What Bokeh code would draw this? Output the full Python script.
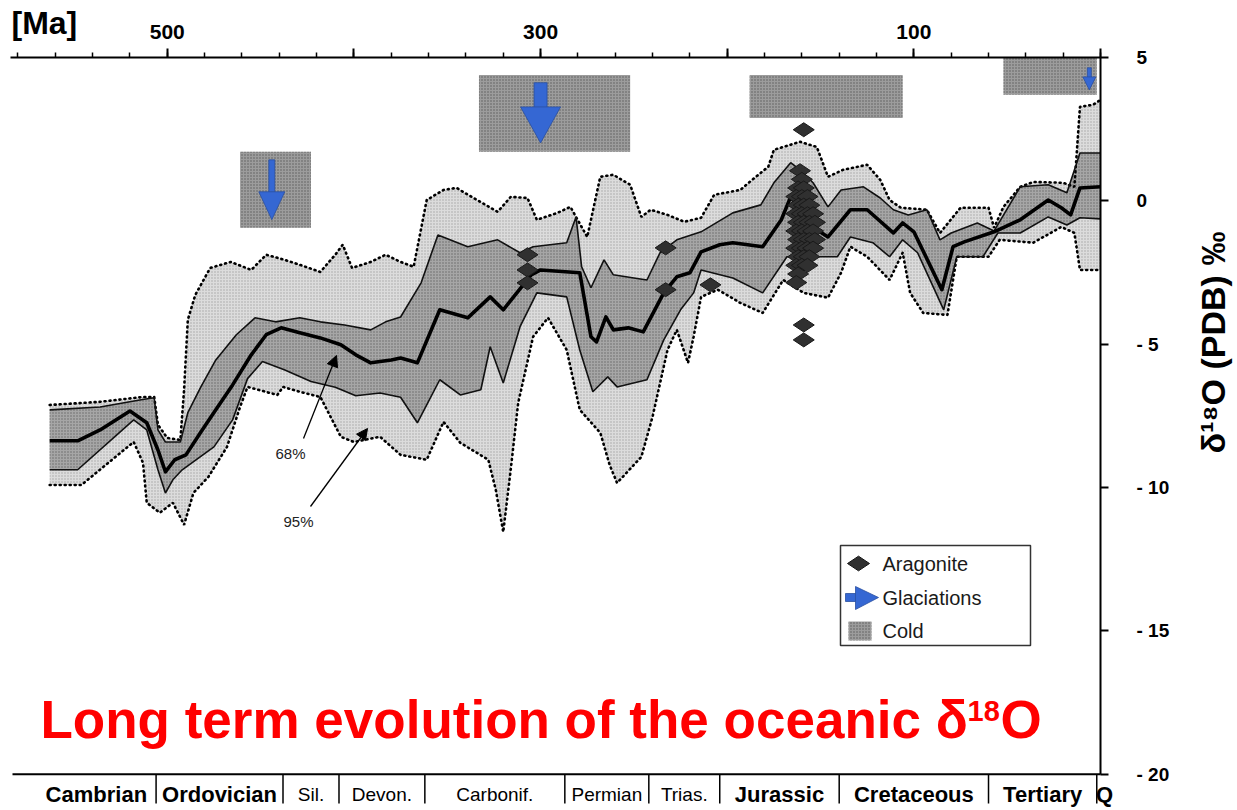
import math
from bokeh.plotting import figure
from bokeh.models import Range1d, FixedTicker, Label, Arrow, NormalHead
from bokeh.embed import file_html
from bokeh.resources import INLINE

# ---------------- data (age in Ma, delta18O in per mil PDB) ----------------
mean_age = [563, 548, 536, 520, 511, 505, 501, 496, 490, 482, 474, 465, 455, 447, 439, 429, 418, 407, 399, 391,
            380, 375, 366, 354, 339, 327, 320, 305, 300, 279, 273, 270, 265, 261, 253, 245, 234, 227, 220, 214,
            204, 197, 181, 171, 166, 161, 152, 146, 134, 125, 111, 106, 100, 85, 79, 73, 57, 43, 28, 21,
            16, 11, 0]
mean_val = [-8.37, -8.37, -7.99, -7.33, -7.74, -8.69, -9.45, -9.03, -8.86, -8.06, -7.29, -6.42, -5.37, -4.67, -4.43, -4.60, -4.78, -5.02, -5.37, -5.65,
            -5.55, -5.48, -5.65, -3.80, -4.08, -3.35, -3.80, -2.58, -2.41, -2.51, -4.74, -4.92, -4.05, -4.50, -4.43, -4.57, -3.21, -2.65, -2.51, -1.78,
            -1.53, -1.46, -1.60, -0.66, 0.14, -0.31, -1.01, -1.26, -0.31, -0.31, -1.12, -0.77, -1.08, -3.10, -1.60, -1.43, -1.08, -0.66, 0.03, -0.24,
            -0.49, 0.45, 0.49]

upper68_age = [563, 536, 514, 507, 505, 501, 493, 489, 482, 474, 463, 453, 442, 429, 418, 405, 391, 383, 375, 364,
               355, 339, 323, 311, 304, 286, 281, 278, 273, 266, 261, 250, 243, 236, 227, 214, 197, 182, 175, 166,
               161, 154, 146, 139, 127, 118, 111, 103, 93, 86, 80, 66, 57, 43, 28, 18, 11, 0]
upper68_val = [-7.29, -7.19, -6.94, -6.87, -7.99, -8.41, -8.41, -7.39, -6.49, -5.55, -4.67, -4.08, -4.22, -4.08, -4.22, -4.33, -4.50, -4.22, -4.05, -2.86,
               -1.19, -1.60, -1.36, -1.81, -1.60, -1.46, -0.56, -2.30, -3.03, -2.06, -2.58, -2.69, -2.76, -1.81, -1.36, -1.08, -0.42, -0.14, 0.63, 1.33,
               1.08, 0.63, -0.21, 0.38, 0.49, 0.10, -0.31, -0.49, -0.31, -1.36, -1.12, -0.77, -1.05, 0.49, 0.56, 0.28, 1.67, 1.67]

lower68_age = [563, 548, 518, 511, 505, 501, 497, 492, 475, 465, 457, 449, 437, 423, 410, 399, 386, 375, 366, 354,
               343, 332, 327, 320, 311, 302, 286, 279, 272, 264, 259, 243, 234, 225, 218, 214, 197, 181, 168, 150,
               141, 134, 122, 113, 106, 98, 84, 77, 63, 55, 43, 28, 18, 11, 0]
lower68_val = [-9.38, -9.38, -7.64, -7.99, -9.38, -10.19, -9.73, -9.38, -8.58, -7.64, -6.20, -5.60, -5.90, -6.30, -6.50, -6.80, -6.70, -6.85, -7.74, -6.24,
               -6.77, -6.59, -5.09, -6.35, -4.39, -3.21, -3.35, -5.20, -6.66, -6.14, -6.49, -6.24, -4.85, -3.80, -3.21, -2.41, -2.69, -3.21, -1.95, -1.95,
               -1.95, -1.26, -1.46, -1.95, -1.36, -1.81, -3.80, -1.95, -1.95, -1.12, -1.12, -0.56, -0.84, -0.59, -0.63]

upper95_age = [563, 536, 513, 507, 505, 500, 493, 491, 489, 485, 477, 466, 455, 447, 437, 429, 418, 410, 406, 401,
               391, 383, 375, 368, 361, 352, 345, 334, 323, 316, 307, 302, 291, 284, 275, 268, 261, 252, 246, 241,
               232, 223, 214, 207, 193, 188, 178, 175, 161, 152, 146, 138, 125, 118, 113, 107, 93, 86, 75, 60,
               57, 52, 43, 36, 20, 14, 11, 4, 0]
upper95_val = [-7.12, -7.01, -6.84, -6.84, -7.81, -8.27, -8.34, -6.59, -4.15, -3.28, -2.34, -2.13, -2.41, -1.88, -2.06, -2.23, -2.48, -1.88, -1.53, -2.34,
               -2.13, -1.88, -2.13, -2.30, 0.03, 0.38, 0.45, 0.03, -0.38, 0.14, 0.10, -0.66, -0.42, -0.21, -1.26, 0.84, 0.91, 0.56, -0.56, -0.31,
               -0.49, -0.73, -0.59, 0.21, 0.38, 0.66, 1.19, 1.78, 2.06, 1.88, 0.84, 1.08, 1.26, 0.73, 0.03, -0.24, -0.31, -1.12, -0.24, -0.24,
               -0.94, -0.21, 0.49, 0.66, 0.63, 0.49, 3.28, 3.35, 3.52]

lower95_age = [563, 546, 518, 513, 511, 504, 497, 491, 486, 478, 468, 461, 457, 441, 438, 429, 418, 407, 400, 386,
               375, 361, 352, 343, 328, 324, 320, 316, 312, 304, 296, 286, 279, 268, 263, 259, 246, 240, 232, 227,
               221, 218, 214, 205, 193, 181, 170, 159, 146, 139, 134, 125, 113, 106, 102, 95, 82, 77, 60, 54,
               36, 21, 14, 11, 0]
lower95_val = [-9.91, -9.91, -8.41, -9.14, -10.53, -10.88, -10.53, -11.30, -10.19, -9.63, -8.58, -7.19, -6.49, -6.77, -6.49, -6.66, -6.84, -8.23, -8.41, -8.23,
               -8.86, -9.03, -7.71, -8.44, -9.03, -10.08, -11.55, -9.38, -7.05, -4.74, -4.08, -5.20, -7.29, -8.09, -9.21, -9.84, -8.93, -7.53, -5.20, -4.50,
               -5.65, -4.74, -3.35, -3.10, -3.56, -3.91, -2.76, -3.21, -3.38, -2.51, -1.60, -1.95, -2.76, -1.81, -3.21, -3.91, -3.98, -1.95, -1.95, -1.36,
               -1.46, -0.91, -1.12, -2.41, -2.41]

aragonite_age = [307, 307, 307, 233, 233, 209, 159, 159, 159,
                 161, 160, 162, 159, 163, 160, 157, 162, 159, 156, 163, 160, 157, 154, 162, 159, 156, 153,
                 163, 160, 157, 154, 162, 159, 156, 153, 163, 160, 157, 154, 162, 159, 156, 163, 160, 157, 162, 163]
aragonite_val = [-1.88, -2.41, -2.86, -1.64, -3.10, -2.93, 2.48, -4.33, -4.85,
                 1.05, 0.75, 0.45, 0.45, 0.15, 0.15, 0.15, -0.15, -0.15, -0.15, -0.45, -0.45, -0.45, -0.45, -0.75, -0.75, -0.75, -0.75,
                 -1.05, -1.05, -1.05, -1.05, -1.35, -1.35, -1.35, -1.35, -1.65, -1.65, -1.65, -1.65, -1.95, -1.95, -1.95, -2.25, -2.25, -2.25, -2.55, -2.85]

glaciation_age = [444, 300, 6]
glaciation_top = [1.43, 4.12, 4.64]
glaciation_tip = [-0.66, 2.02, 3.87]

cold_old = [461, 333, 188, 52]
cold_young = [423, 252, 106, 2]
cold_top = [1.71, 4.39, 4.39, 5.0]
cold_bottom = [-0.94, 1.71, 2.89, 3.70]

period_names = ["Cambrian", "Ordovician", "Sil.", "Devon.", "Carbonif.", "Permian", "Trias.",
                "Jurassic", "Cretaceous", "Tertiary", "Q"]
period_start = [570, 506, 438, 408, 362, 287, 242, 204, 140, 60, 2]
period_end = [506, 438, 408, 362, 287, 242, 204, 140, 60, 2, 0]
period_bold = [True, True, False, False, False, False, False, True, True, True, True]

top_ticks = [500, 400, 300, 200, 100, 0]
top_labels = {500: "500", 400: "", 300: "300", 200: "", 100: "100", 0: ""}
top_minor = list(range(580, -1, -20))
right_ticks = [5, 0, -5, -10, -15, -20]
right_labels = {5: "5", 0: "0", -5: "-  5", -10: "- 10", -15: "- 15", -20: "- 20"}

# ---------------- layout ----------------
W, H = 1237, 810
AX_LEFT_PX, AX_RIGHT_PX, AX_TOP_PX = 10, 1100, 57
X_OLD, X_YOUNG = 584, 0
Y_TOP, Y_BOT = 5.0, -20.0
PX_PER_UNIT = 28.67
MA_PER_PX = (X_OLD - X_YOUNG) / (AX_RIGHT_PX - AX_LEFT_PX)
UNIT_PER_PX = 1.0 / PX_PER_UNIT


def ma_at(px):
    return X_OLD - (px - AX_LEFT_PX) * MA_PER_PX


def val_at(py):
    return Y_TOP - (py - AX_TOP_PX) * UNIT_PER_PX


FONT = "Liberation Sans"

p = figure(width=W, height=H,
           x_range=Range1d(ma_at(0), ma_at(W)), y_range=Range1d(val_at(H), val_at(0)),
           x_axis_location="above", y_axis_location="right",
           output_backend="svg", toolbar_location=None,
           min_border=0, min_border_left=0, min_border_right=0, min_border_top=0, min_border_bottom=0)
p.grid.visible = False
p.outline_line_color = None
p.background_fill_color = "white"
p.border_fill_color = "white"

# top (age) axis, fixed at the top of the data area
xa = p.xaxis[0]
xa.fixed_location = Y_TOP
xa.bounds = (X_OLD, X_YOUNG)
xa.ticker = FixedTicker(ticks=top_ticks, minor_ticks=top_minor)
xa.major_label_overrides = top_labels
xa.axis_line_width = 2
xa.major_tick_line_width = 2
xa.minor_tick_line_width = 1.5
xa.major_tick_in = 0
xa.major_tick_out = 9
xa.minor_tick_in = 0
xa.minor_tick_out = 5
xa.major_label_standoff = 10
xa.major_label_text_font = FONT
xa.major_label_text_font_style = "bold"
xa.major_label_text_font_size = "21px"
xa.major_label_text_color = "black"

# right (delta18O) axis, fixed at 0 Ma
ya = p.yaxis[0]
ya.fixed_location = X_YOUNG
ya.bounds = (Y_BOT, Y_TOP)
ya.ticker = FixedTicker(ticks=right_ticks)
ya.major_label_overrides = right_labels
ya.axis_line_width = 2
ya.major_tick_line_width = 2
ya.major_tick_in = 0
ya.major_tick_out = 8
ya.minor_tick_out = 0
ya.minor_tick_in = 0
ya.major_label_standoff = 28
ya.major_label_text_font = FONT
ya.major_label_text_font_style = "bold"
ya.major_label_text_font_size = "19px"
ya.major_label_text_color = "black"

# cold periods
p.quad(left=cold_old, right=cold_young, top=cold_top, bottom=cold_bottom,
       fill_color="#9c9c9c", line_color=None,
       hatch_pattern="dot", hatch_color="#5a5a5a", hatch_scale=3, hatch_weight=1.2)

# 95% band
p.patch(upper95_age + lower95_age[::-1], upper95_val + lower95_val[::-1],
        fill_color="#dcdcdc", line_color=None,
        hatch_pattern="dot", hatch_color="#a4a4a4", hatch_scale=3, hatch_weight=1)
# 68% band
p.patch(upper68_age + lower68_age[::-1], upper68_val + lower68_val[::-1],
        fill_color="#a6a6a6", line_color=None,
        hatch_pattern="dot", hatch_color="#666666", hatch_scale=3, hatch_weight=1)

p.line(upper95_age, upper95_val, line_color="black", line_width=2.6, line_dash="1 4", line_cap="round")
p.line(lower95_age, lower95_val, line_color="black", line_width=2.6, line_dash="1 4", line_cap="round")
p.line(upper68_age, upper68_val, line_color="#111111", line_width=1.6)
p.line(lower68_age, lower68_val, line_color="#111111", line_width=1.6)
p.line(mean_age, mean_val, line_color="black", line_width=3.6, line_join="round")

# aragonite
p.scatter(aragonite_age, aragonite_val, marker="diamond", size=21, angle=math.pi / 2,
          fill_color="#303030", line_color="#1a1a1a", line_width=1)

# glaciation arrows
shaft_w = [6, 13, 4]
head_w = [26, 40, 13]
head_h = [28, 36, 13]
shaft_l, shaft_r, shaft_b, head_xs, head_ys = [], [], [], [], []
for a, t, tip, sw, hw, hh in zip(glaciation_age, glaciation_top, glaciation_tip, shaft_w, head_w, head_h):
    base = tip + hh * UNIT_PER_PX
    shaft_l.append(a + sw / 2 * MA_PER_PX)
    shaft_r.append(a - sw / 2 * MA_PER_PX)
    shaft_b.append(base - 1 * UNIT_PER_PX)
    head_xs.append([a + hw / 2 * MA_PER_PX, a - hw / 2 * MA_PER_PX, a])
    head_ys.append([base, base, tip])
p.quad(left=shaft_l, right=shaft_r, top=glaciation_top, bottom=shaft_b,
       fill_color="#3567d3", line_color="#2a4fa0", line_width=0.8)
p.patches(head_xs, head_ys, fill_color="#3567d3", line_color="#2a4fa0", line_width=0.8)

# period strip
p.segment(x0=[ma_at(12)], y0=[Y_BOT], x1=[X_YOUNG], y1=[Y_BOT], line_color="black", line_width=2)
p.segment(x0=period_start[1:], y0=[Y_BOT] * 10, x1=period_start[1:], y1=[val_at(803)] * 10,
          line_color="black", line_width=1.5)
for name, s, e, bold in zip(period_names, period_start, period_end, period_bold):
    c = (min(s, X_OLD) + e) / 2
    off = 6 if name == "Q" else 0
    p.add_layout(Label(x=c, y=val_at(794), text=name, x_offset=off,
                       text_align="center", text_baseline="middle",
                       text_font=FONT, text_font_style="bold" if bold else "normal",
                       text_font_size="22px" if bold else "19px", text_color="black"))

# axis titles
p.add_layout(Label(x=ma_at(11), y=val_at(22), text="[Ma]", text_align="left", text_baseline="middle",
                   text_font=FONT, text_font_style="bold", text_font_size="32px", text_color="black"))
p.add_layout(Label(x=ma_at(1212), y=val_at(342), text="δ¹⁸O (PDB) ‰", angle=math.pi / 2,
                   text_align="center", text_baseline="middle",
                   text_font=FONT, text_font_style="bold", text_font_size="34px", text_color="black"))

# band annotations
p.add_layout(Label(x=ma_at(290), y=val_at(453), text="68%", text_align="center", text_baseline="middle",
                   text_font=FONT, text_font_size="15px", text_color="#222222"))
p.add_layout(Label(x=ma_at(298), y=val_at(521), text="95%", text_align="center", text_baseline="middle",
                   text_font=FONT, text_font_size="15px", text_color="#222222"))
p.add_layout(Arrow(end=NormalHead(size=11, fill_color="black", line_color="black"),
                   x_start=ma_at(303), y_start=val_at(438), x_end=ma_at(336), y_end=val_at(355),
                   line_width=1.3, line_color="black"))
p.add_layout(Arrow(end=NormalHead(size=11, fill_color="black", line_color="black"),
                   x_start=ma_at(310), y_start=val_at(506), x_end=ma_at(367), y_end=val_at(428),
                   line_width=1.3, line_color="black"))

# legend (drawn manually)
p.quad(left=[ma_at(840)], right=[ma_at(1030)], top=[val_at(545)], bottom=[val_at(645)],
       fill_color="white", line_color="#333333", line_width=1.5)
p.scatter([ma_at(858)], [val_at(563)], marker="diamond", size=22, angle=math.pi / 2,
          fill_color="#303030", line_color="#151515")
p.quad(left=[ma_at(845)], right=[ma_at(857)], top=[val_at(593)], bottom=[val_at(601)],
       fill_color="#3567d3", line_color="#2a4fa0", line_width=0.8)
p.patch([ma_at(855), ma_at(855), ma_at(878)], [val_at(586), val_at(609), val_at(597)],
        fill_color="#3567d3", line_color="#2a4fa0", line_width=0.8)
p.quad(left=[ma_at(848)], right=[ma_at(871)], top=[val_at(621)], bottom=[val_at(640)],
       fill_color="#9c9c9c", line_color=None,
       hatch_pattern="dot", hatch_color="#5a5a5a", hatch_scale=3, hatch_weight=1.2)
for txt, py in [("Aragonite", 563), ("Glaciations", 597), ("Cold", 630)]:
    p.add_layout(Label(x=ma_at(882), y=val_at(py), text=txt, text_align="left", text_baseline="middle",
                       text_font=FONT, text_font_size="20px", text_color="#1a1a1a"))

# title
p.add_layout(Label(x=ma_at(40), y=val_at(719), text="Long term evolution of the oceanic δ",
                   text_align="left", text_baseline="middle",
                   text_font=FONT, text_font_style="bold", text_font_size="53px", text_color="#ff0000"))
p.add_layout(Label(x=ma_at(967), y=val_at(710), text="18",
                   text_align="left", text_baseline="middle",
                   text_font=FONT, text_font_style="bold", text_font_size="29px", text_color="#ff0000"))
p.add_layout(Label(x=ma_at(1000), y=val_at(719), text="O",
                   text_align="left", text_baseline="middle",
                   text_font=FONT, text_font_style="bold", text_font_size="53px", text_color="#ff0000"))

open("out.html", "w").write(file_html(p, INLINE))
